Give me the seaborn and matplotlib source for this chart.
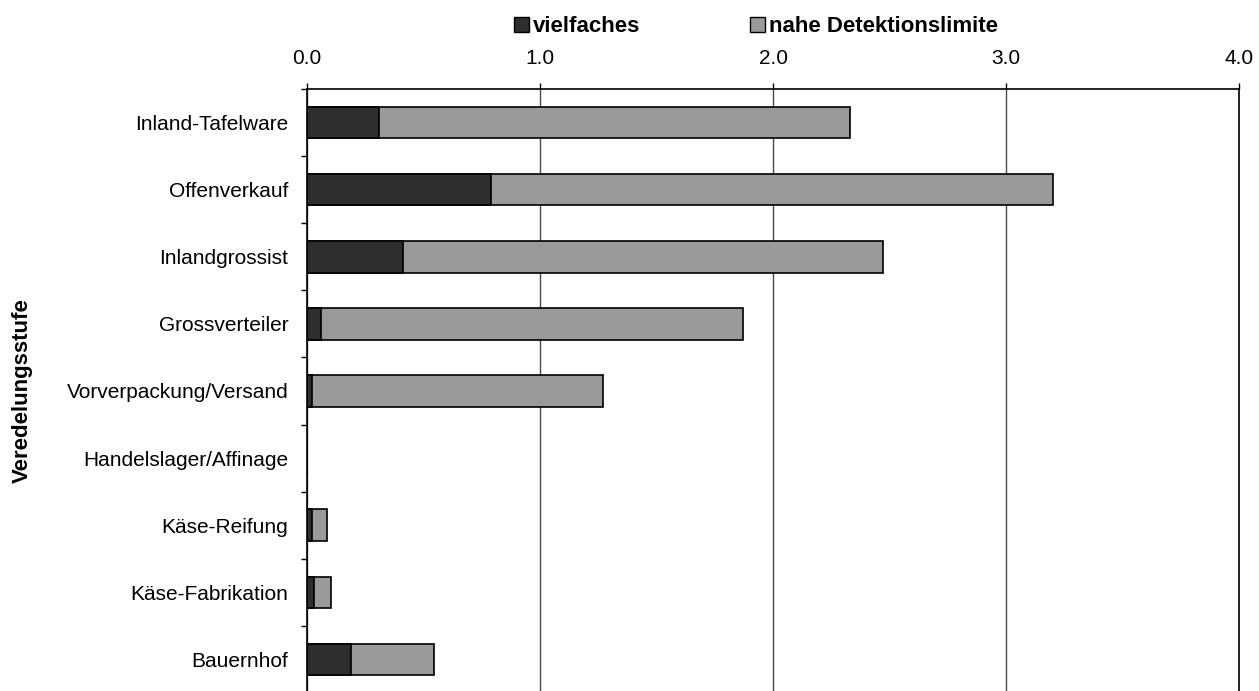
import numpy as np
import pandas as pd
import matplotlib.pyplot as plt
import seaborn as sns
from matplotlib.patches import Patch

# Werte
stufen = ['Inland-Tafelware', 'Offenverkauf', 'Inlandgrossist', 'Grossverteiler',
          'Vorverpackung/Versand', 'Handelslager/Affinage', 'Käse-Reifung',
          'Käse-Fabrikation', 'Bauernhof']
vielfaches = [0.31, 0.79, 0.41, 0.06, 0.02, 0.0, 0.02, 0.03, 0.19]
nahe_limite = [2.02, 2.41, 2.06, 1.81, 1.25, 0.0, 0.065, 0.075, 0.355]
x_ticks = [0, 1, 2, 3, 4]
x_labels = ['0.0', '1.0', '2.0', '3.0', '4.0']

dunkel = '#2e2e2e'
grau = '#9a9a9a'

df = pd.DataFrame({'stufe': stufen, 'vielfaches': vielfaches, 'nahe': nahe_limite})
df['gesamt'] = df['vielfaches'] + df['nahe']

sns.set_style('white')
plt.rcParams['font.family'] = ['Liberation Sans', 'DejaVu Sans']
plt.rcParams['text.color'] = 'black'
plt.rcParams['axes.labelcolor'] = 'black'
plt.rcParams['xtick.color'] = 'black'
plt.rcParams['ytick.color'] = 'black'

fig = plt.figure(figsize=(12.59, 6.91), dpi=100)
ax = fig.add_axes([307 / 1259, -2 / 691, 932 / 1259, 604 / 691])

# gestapelte Balken: zuerst Gesamtlänge grau, dann dunkler Anteil darüber
sns.barplot(data=df, x='gesamt', y='stufe', color=grau, saturation=1,
            edgecolor='black', linewidth=1.2, width=0.47, ax=ax)
sns.barplot(data=df, x='vielfaches', y='stufe', color=dunkel, saturation=1,
            edgecolor='black', linewidth=1.2, width=0.47, ax=ax)

ax.set_xlim(0, 4)
ax.set_ylim(8.5, -0.5)
ax.xaxis.tick_top()
ax.set_xticks(x_ticks)
ax.set_xticklabels(x_labels)
ax.tick_params(axis='x', which='major', top=True, bottom=False, length=4.3,
               width=1, direction='out', pad=11, labelsize=15, colors='black')
ax.set_xlabel('')

ax.set_yticks(np.arange(-0.5, 9, 1), minor=True)
ax.tick_params(axis='y', which='major', length=0, pad=13.5, labelsize=15,
               labelcolor='black')
ax.tick_params(axis='y', which='minor', left=True, length=4.3, width=1,
               direction='out', color='black')

ax.grid(axis='x', color='#4a4a4a', linewidth=1)
ax.grid(axis='y', visible=False)
ax.set_axisbelow(True)
for s in ax.spines.values():
    s.set_visible(True)
    s.set_color('black')
    s.set_linewidth(1.2)

ax.set_ylabel('Veredelungsstufe', fontsize=16, fontweight='bold', color='black')
ax.yaxis.set_label_coords((33 - 307) / 932, 0.5)

handles = [Patch(facecolor=dunkel, edgecolor='black', label='vielfaches'),
           Patch(facecolor=grau, edgecolor='black', label='nahe Detektionslimite')]
fig.legend(handles=handles, loc='center', bbox_to_anchor=(756 / 1259, 1 - 27 / 691),
           ncol=2, frameon=False, prop={'weight': 'bold', 'size': 16},
           handlelength=0.68, handleheight=0.68, handletextpad=0.2,
           columnspacing=4.9, borderpad=0, borderaxespad=0, labelcolor='black')

fig.savefig('out.png', dpi=100)
